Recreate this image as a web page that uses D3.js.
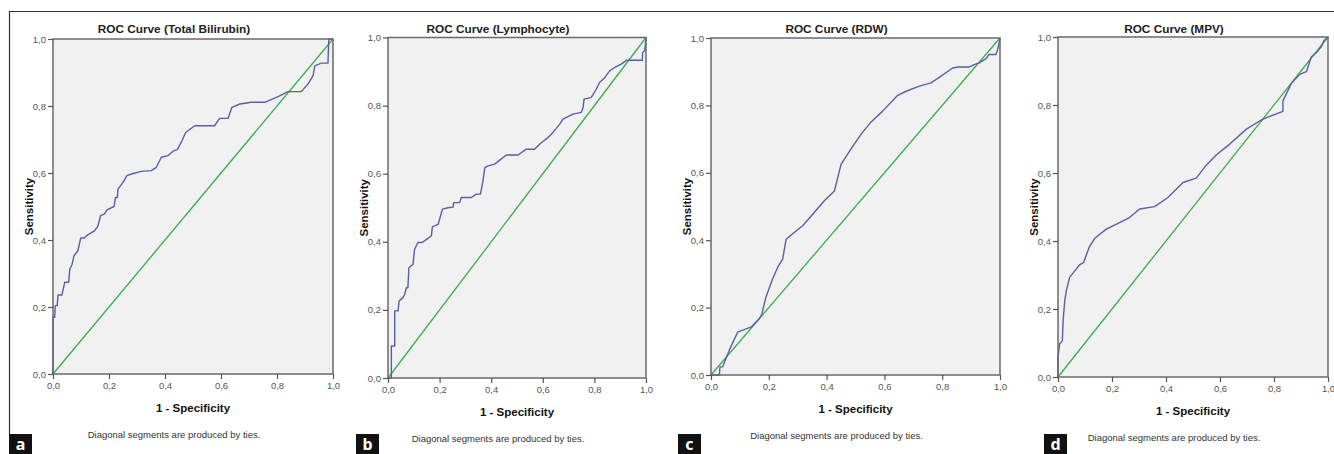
<!DOCTYPE html>
<html>
<head>
<meta charset="utf-8">
<script src="https://cdn.jsdelivr.net/npm/d3@7"></script>
<style>
  body { margin: 0; background: #fff; }
  svg { display: block; }
</style>
</head>
<body>
<script>
  // ROC points, [1 - specificity, sensitivity]
  const bilirubin = [[0,0],[0,0.169],[0.006,0.169],[0.008,0.204],[0.015,0.204],[0.018,0.236],[0.032,0.236],[0.042,0.274],[0.056,0.274],[0.06,0.313],[0.068,0.327],[0.075,0.353],[0.089,0.368],[0.099,0.406],[0.111,0.406],[0.125,0.416],[0.149,0.428],[0.161,0.443],[0.17,0.473],[0.184,0.478],[0.193,0.49],[0.218,0.5],[0.223,0.527],[0.230,0.527],[0.232,0.552],[0.25,0.572],[0.264,0.592],[0.28,0.597],[0.315,0.605],[0.351,0.607],[0.369,0.617],[0.387,0.647],[0.411,0.652],[0.432,0.667],[0.444,0.67],[0.458,0.692],[0.474,0.721],[0.506,0.741],[0.577,0.741],[0.595,0.763],[0.625,0.763],[0.639,0.796],[0.667,0.806],[0.708,0.811],[0.756,0.811],[0.804,0.828],[0.839,0.843],[0.887,0.843],[0.911,0.866],[0.929,0.891],[0.935,0.92],[0.958,0.928],[0.982,0.928],[0.985,1],[1,1]];

  const lymphocyte = [[0,0],[0.013,0],[0.013,0.094],[0.026,0.094],[0.026,0.197],[0.039,0.197],[0.043,0.226],[0.058,0.236],[0.065,0.246],[0.071,0.265],[0.077,0.265],[0.081,0.324],[0.097,0.334],[0.103,0.378],[0.116,0.398],[0.133,0.398],[0.149,0.407],[0.168,0.417],[0.172,0.444],[0.194,0.451],[0.211,0.496],[0.233,0.5],[0.252,0.502],[0.255,0.515],[0.278,0.515],[0.284,0.53],[0.323,0.53],[0.342,0.54],[0.358,0.54],[0.362,0.554],[0.368,0.579],[0.375,0.618],[0.388,0.623],[0.413,0.628],[0.433,0.64],[0.459,0.655],[0.504,0.655],[0.536,0.672],[0.568,0.672],[0.594,0.691],[0.62,0.706],[0.633,0.716],[0.65,0.731],[0.665,0.745],[0.678,0.76],[0.717,0.775],[0.749,0.78],[0.756,0.794],[0.76,0.819],[0.788,0.824],[0.807,0.848],[0.82,0.868],[0.84,0.882],[0.859,0.902],[0.879,0.912],[0.904,0.922],[0.924,0.933],[0.986,0.933],[0.987,0.956],[0.995,0.961],[1,1]];

  const rdw = [[0,0],[0.029,0],[0.031,0.024],[0.04,0.024],[0.063,0.073],[0.092,0.127],[0.138,0.142],[0.167,0.167],[0.176,0.181],[0.19,0.231],[0.213,0.285],[0.231,0.32],[0.248,0.344],[0.26,0.403],[0.288,0.423],[0.317,0.443],[0.352,0.477],[0.392,0.517],[0.427,0.546],[0.45,0.625],[0.484,0.67],[0.519,0.714],[0.554,0.751],[0.594,0.783],[0.646,0.83],[0.675,0.842],[0.721,0.857],[0.761,0.867],[0.79,0.883],[0.836,0.911],[0.854,0.914],[0.894,0.914],[0.911,0.921],[0.928,0.926],[0.952,0.939],[0.961,0.951],[0.986,0.951],[0.992,0.966],[0.998,0.99],[1,1]];

  const mpv = [[0,0],[0,0.058],[0.006,0.097],[0.016,0.107],[0.019,0.166],[0.025,0.224],[0.031,0.254],[0.043,0.293],[0.062,0.312],[0.08,0.33],[0.095,0.337],[0.115,0.381],[0.136,0.408],[0.179,0.435],[0.228,0.454],[0.265,0.469],[0.302,0.494],[0.358,0.501],[0.407,0.528],[0.463,0.572],[0.512,0.585],[0.549,0.623],[0.586,0.653],[0.636,0.685],[0.698,0.729],[0.747,0.753],[0.772,0.763],[0.833,0.781],[0.833,0.812],[0.864,0.863],[0.895,0.89],[0.92,0.898],[0.938,0.941],[0.957,0.954],[0.975,0.971],[0.984,0.988],[1,1]];

  const titles = ["ROC Curve (Total Bilirubin)", "ROC Curve (Lymphocyte)", "ROC Curve (RDW)", "ROC Curve (MPV)"];
  const letters = ["a", "b", "c", "d"];
  const series = [bilirubin, lymphocyte, rdw, mpv];
  const tickValues = [0, 0.2, 0.4, 0.6, 0.8, 1.0];
  const reference = [[0, 0], [1, 1]];

  // plot rectangles of each panel (they were scaled a bit differently)
  const layout = [
    {x0: 53,   x1: 333,  y0: 39,   y1: 374, box: 9},
    {x0: 388,  x1: 646,  y0: 37.5, y1: 378, box: 356},
    {x0: 711,  x1: 1000, y0: 38,   y1: 375, box: 678},
    {x0: 1058, x1: 1328, y0: 37,   y1: 377, box: 1044}
  ];

  const W = 1334, H = 454;
  const comma = d3.formatLocale({decimal: ",", thousands: ".", grouping: [3], currency: ["", ""]}).format(".1f");

  const svg = d3.select('body').append('svg')
    .attr('width', W)
    .attr('height', H)
    .style('font-family', 'Liberation Sans, Arial, sans-serif');

  // outer frame of the figure
  svg.append('path')
    .attr('d', 'M9.5,434 V11.5 H' + W)
    .attr('fill', 'none')
    .attr('stroke', '#333')
    .attr('stroke-width', 1.2);

  series.forEach(function(pts, i) {
    const L = layout[i];
    const x = d3.scaleLinear().domain([0, 1]).range([L.x0, L.x1]);
    const y = d3.scaleLinear().domain([0, 1]).range([L.y1, L.y0]);
    const cx = (L.x0 + L.x1) / 2;
    const g = svg.append('g');

    g.append('rect')
      .attr('x', L.x0).attr('y', L.y0)
      .attr('width', L.x1 - L.x0).attr('height', L.y1 - L.y0)
      .attr('fill', '#f1f1f1');

    const line = d3.line()
      .x(function(d) { return x(d[0]); })
      .y(function(d) { return y(d[1]); });

    g.append('path')
      .datum(reference)
      .attr('d', line)
      .attr('fill', 'none')
      .attr('stroke', '#3aac48')
      .attr('stroke-width', 1.3);

    g.append('path')
      .datum(pts)
      .attr('d', line)
      .attr('fill', 'none')
      .attr('stroke', '#5a5ea8')
      .attr('stroke-width', 1.4)
      .attr('stroke-linejoin', 'round');

    g.append('rect')
      .attr('x', L.x0).attr('y', L.y0)
      .attr('width', L.x1 - L.x0).attr('height', L.y1 - L.y0)
      .attr('fill', 'none')
      .attr('stroke', '#6a6a6a')
      .attr('stroke-width', 1.5);

    const xAxis = g.append('g')
      .attr('transform', 'translate(0,' + L.y1 + ')')
      .call(d3.axisBottom(x).tickValues(tickValues).tickFormat(comma).tickSizeOuter(0).tickSize(5).tickPadding(3));
    const yAxis = g.append('g')
      .attr('transform', 'translate(' + L.x0 + ',0)')
      .call(d3.axisLeft(y).tickValues(tickValues).tickFormat(comma).tickSizeOuter(0).tickSize(5).tickPadding(2));

    [xAxis, yAxis].forEach(function(a) {
      a.select('.domain').remove();
      a.selectAll('line').attr('stroke', '#555').attr('stroke-width', 1.2);
      a.selectAll('text')
        .attr('fill', '#555')
        .style('font-size', '9.5px')
        .style('font-family', 'Liberation Sans Narrow, Liberation Sans, Arial, sans-serif');
    });

    g.append('text')
      .attr('x', cx - 19).attr('y', 33)
      .attr('text-anchor', 'middle')
      .attr('font-weight', 'bold')
      .attr('font-size', '11.8px')
      .attr('fill', '#222')
      .text(titles[i]);

    g.append('text')
      .attr('x', cx).attr('y', L.y1 + 38)
      .attr('text-anchor', 'middle')
      .attr('font-weight', 'bold')
      .attr('font-size', '11.5px')
      .attr('fill', '#111')
      .text('1 - Specificity');

    g.append('text')
      .attr('transform', 'translate(' + (L.x0 - 20) + ',' + ((L.y0 + L.y1) / 2) + ') rotate(-90)')
      .attr('text-anchor', 'middle')
      .attr('font-weight', 'bold')
      .attr('font-size', '11.5px')
      .attr('fill', '#111')
      .text('Sensitivity');

    g.append('text')
      .attr('x', cx - 19).attr('y', L.y1 + 64)
      .attr('text-anchor', 'middle')
      .attr('font-size', '9.5px')
      .attr('fill', '#333')
      .text('Diagonal segments are produced by ties.');

    g.append('rect')
      .attr('x', L.box).attr('y', 434)
      .attr('width', 23).attr('height', 20)
      .attr('fill', '#111');
    g.append('text')
      .attr('x', L.box + 11.5).attr('y', 450)
      .attr('text-anchor', 'middle')
      .attr('font-weight', 'bold')
      .attr('font-size', '16px')
      .attr('font-family', 'Noto Sans, sans-serif')
      .attr('fill', '#fff')
      .text(letters[i]);
  });
</script>
</body>
</html>
